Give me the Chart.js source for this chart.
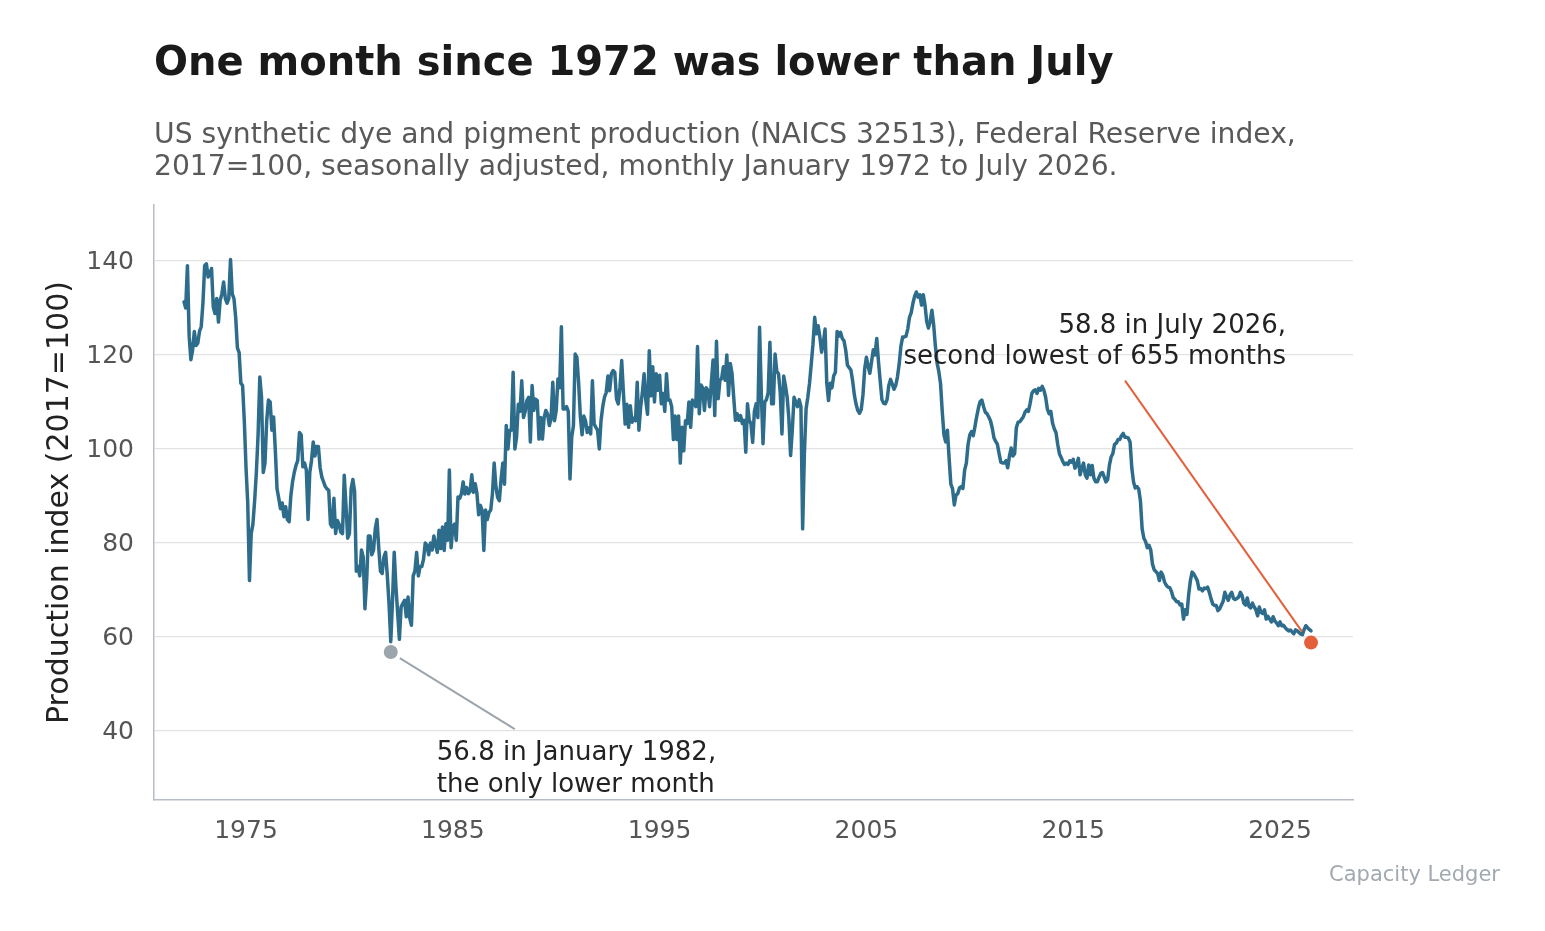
<!DOCTYPE html>
<html>
<head>
<meta charset="utf-8">
<script src="https://cdn.jsdelivr.net/npm/chart.js@4.4.1/dist/chart.umd.min.js"></script>
<style>
  html, body { margin: 0; padding: 0; background: #fff; }
  body { width: 1545px; height: 931px; position: relative; overflow: hidden; font-family: 'DejaVu Sans', sans-serif; }
  #chart { position: absolute; left: 0; top: 0; }
  .title { position: absolute; left: 154px; top: 41px; font-size: 40px; line-height: 40px; font-weight: bold; color: #1a1a1a; white-space: nowrap; }
  .subtitle { position: absolute; left: 154px; top: 118px; font-size: 28.2px; line-height: 32px; color: #595959; white-space: nowrap; }
  .source { position: absolute; right: 45px; top: 864px; font-size: 21px; line-height: 21px; color: #a3a9b0; white-space: nowrap; }
</style>
</head>
<body>
<canvas id="chart" width="1545" height="931"></canvas>
<div class="title">One month since 1972 was lower than July</div>
<div class="subtitle">US synthetic dye and pigment production (NAICS 32513), Federal Reserve index,<br>2017=100, seasonally adjusted, monthly January 1972 to July 2026.</div>
<div class="source">Capacity Ledger</div>
<script>
// monthly index values, January 1972 onwards (12 per row = one year)
const startYear = 1972;

const prod1970s = [
  131.3, 130, 139, 124, 119, 121, 125, 122, 122.5, 125, 126, 131,
  139, 139.4, 136.6, 137.3, 138.4, 130.2, 128.8, 132, 127, 131.6, 133, 135.5,
  132, 131, 132, 140.3, 133, 132, 128, 121.5, 120.5, 114, 113.5, 106,
  96, 88.5, 72, 82, 84, 89, 95, 103, 115.3, 111, 95, 97,
  106, 110.4, 110, 104, 106.8, 99.7, 91.5, 89.5, 87.3, 88.5, 85.6, 87.7,
  85, 84.5, 90, 93, 95, 96.5, 97.5, 103.5, 103, 96.2, 97, 95.5,
  85, 95, 97.5, 101.5, 98.5, 100.5, 100.5, 96, 94, 93, 92, 91.5,
  91.2, 84, 83.4, 89.5, 82, 84.8, 84, 82.3, 82, 94.4, 88, 81
];

const prod1980s = [
  82, 91.5, 93.5, 91, 74, 75, 73, 78.5, 77, 66, 72, 81.5,
  81.5, 77.5, 78.5, 83, 85, 79, 74, 73.5, 77, 78, 73, 67,
  59, 67.8, 78, 70.6, 65, 59.5, 66.4, 67.1, 67.8, 64.3, 68.5, 64,
  62.5, 73, 74, 78, 73, 75, 75, 76.5, 80, 79.5, 77.5, 80,
  78.5, 81.5, 79.5, 78, 82.7, 78.8, 83.4, 78.4, 84.1, 80.6, 95.5, 79,
  83.5, 84, 80.6, 89.8, 89.5, 90.5, 93, 90.4, 91.8, 90.5, 91, 94.5,
  90.8, 92.6, 90.5, 86, 88, 86.9, 78.4, 87, 85, 86.5, 87, 90.5,
  97, 92, 89.7, 89, 93.5, 97, 92.5, 105, 100, 104, 104, 116.3,
  100, 102.5, 109.5, 108, 114.5, 106.7, 108, 110.3, 111, 101.5, 113.5, 108.2,
  110.6, 110.3, 102.1, 106.7, 102.1, 106.7, 108.2, 107.4, 105, 106.4, 114.2, 106
];

const prod1990s = [
  108.2, 114.9, 113, 126, 108.5, 108.5, 109, 108, 93.6, 102.5, 105, 120.2,
  119.5, 114, 107, 103, 107, 106, 103.5, 104.5, 103.2, 114.5, 105.3, 104.6,
  104, 100, 106, 109, 111, 112, 115.5, 112.4, 116, 116.7, 116.3, 110.6,
  109.6, 113.1, 118.8, 112, 105.3, 109.5, 104.6, 109.2, 105.7, 106.5, 106, 114.2,
  104, 108.9, 112, 116, 110.3, 107.4, 120.9, 111.3, 117.5, 110, 116, 112.5,
  115.7, 109.6, 111.8, 108, 116, 110.4, 110.4, 109, 102, 107, 102, 107,
  97, 104.6, 99.6, 106, 105.4, 110, 104.6, 110.4, 110, 109, 121.8, 107.5,
  113.6, 113, 108.2, 113, 112.5, 109, 114, 118.9, 107.1, 122.9, 110.7, 114.6,
  115, 117.5, 114.6, 120, 111.4, 118.2, 116.1, 111, 106.1, 107.5, 106.1, 107.1,
  105.4, 106.1, 99.3, 109.6, 106.1, 105.4, 101.4, 108, 109.6, 106.7, 125.9, 112
];

const prod2000s = [
  101.1, 110, 110.5, 112, 122.7, 109.6, 109.6, 120.2, 116.5, 116, 112, 103.2,
  115.5, 113.5, 111, 106.5, 98.6, 104, 111, 110, 109, 110.5, 109, 83,
  99, 108.5, 111, 114, 118.1, 122.3, 128, 124.5, 126.2, 123.8, 120.6, 122.5,
  125.5, 114, 110.3, 114, 113, 115.5, 116.3, 125, 124, 124.8, 123.5, 123,
  121, 117.8, 117.3, 116.8, 114.5, 111.5, 109.5, 108.2, 107.6, 108.4, 111.5, 117,
  119.5, 117.6, 116.1, 118.6, 121.1, 120, 123.5, 118.6, 114.5, 110.5, 109.7, 109.6,
  110.5, 113.5, 114.8, 113.8, 112.7, 113.5, 115.3, 118, 121.8, 123.8, 123.8, 124,
  125.5, 128, 129, 131, 132.5, 133.4, 132.3, 132.8, 130.6, 132.8, 130.6, 127.1,
  125.7, 127.1, 129.5, 126.5, 122, 118.3, 116.5, 114, 108, 103, 101.5, 104,
  98, 92.5, 91.5, 88.1, 90.2, 90.5, 91.7, 92, 91.6, 95.5, 97, 101
];

const prod2010s = [
  103, 103.7, 102.8, 104.8, 106.9, 108.7, 110.1, 110.4, 109, 107.8, 107.5, 106.8,
  106, 104.5, 102.4, 101.6, 101, 99, 97.2, 97, 97, 97.5, 96, 98.5,
  100.2, 98.5, 99, 104.5, 105.7, 105.8, 106.3, 106.8, 107.8, 108.3, 108, 109.7,
  111.8, 112.4, 112.6, 111.8, 112.9, 112.5, 113.3, 112.5, 111, 108.5, 107.5, 108,
  105.5, 104.3, 103.5, 101, 99, 98.2, 97.3, 96.7, 97, 96.7, 97.5, 97.2,
  97.8, 95.9, 96.6, 98, 94.5, 95.9, 97, 94.5, 93.8, 96.6, 94.5, 96.5,
  93.8, 93, 93, 94, 94.8, 95, 94, 93, 93.5, 96.5, 98.3, 99,
  101, 101.2, 102, 102, 102.8, 103.3, 102.5, 102.5, 102.3, 101.5, 96, 93,
  91.7, 92, 91.5, 89, 83, 81, 80.3, 79, 79.5, 78.5, 75.5, 74.3,
  73.9, 73.5, 72, 73.8, 73.1, 71.7, 71, 70.6, 70.5, 69.7, 68.4, 68
];

const prod2020s = [
  67.5, 67.5, 66.8, 67, 63.8, 65.8, 64.8, 69, 72, 73.8, 73.4, 72.7,
  72, 70.2, 70.3, 69.8, 70.4, 70.3, 70.6, 69.5, 68.1, 67, 66.7, 66.7,
  65.6, 66, 66.8, 67.6, 69.5, 68.5, 67.8, 69, 69.5, 68.2, 68, 68.2,
  68.5, 69.5, 68.8, 67.2, 66.8, 68.3, 66.5, 66.2, 67.2, 66.4, 65.8, 64.5,
  66.4, 65.2, 65, 65.8, 63.8, 64.4, 63.8, 63.2, 64.3, 63.4, 63, 62.4,
  63.2, 62.4, 62.5, 62, 61.6, 61.3, 61.5, 61.1, 60.7, 61.5, 61.3, 61,
  60.6, 60.5, 61.6, 62.4, 62, 61.6, 61.3
];

// highlighted months: January 1982 and July 2026
const markYears = [1982 + 0 / 12, 2026 + 6 / 12];
const markValues = [56.8, 58.8];
const markNotes = [
  ['56.8 in January 1982,', 'the only lower month'],
  ['58.8 in July 2026,', 'second lowest of 655 months']
];

const xTicks = [1975, 1985, 1995, 2005, 2015, 2025];
const yTicks = [40, 60, 80, 100, 120, 140];

const monthly = [].concat(prod1970s, prod1980s, prod1990s, prod2000s, prod2010s, prod2020s);
const linePoints = monthly.map((v, i) => ({ x: startYear + i / 12, y: v }));
const markPoints = markYears.map((yr, i) => ({ x: yr, y: markValues[i] }));

const grey = '#9ca4ac';
const orange = '#e4603b';
const FONT = 'DejaVu Sans';

Chart.defaults.font.family = FONT;

const notes = {
  id: 'notes',
  afterDatasetsDraw(chart) {
    const { ctx, scales: { x, y } } = chart;
    ctx.save();
    ctx.lineWidth = 2;

    // low point, January 1982
    const lx = x.getPixelForValue(markYears[0]);
    const ly = y.getPixelForValue(markValues[0]);
    ctx.strokeStyle = grey;
    ctx.beginPath();
    ctx.moveTo(lx + 9, ly + 6);
    ctx.lineTo(lx + 124, ly + 77);
    ctx.stroke();

    // latest point, July 2026
    const ox = x.getPixelForValue(markYears[1]);
    const oy = y.getPixelForValue(markValues[1]);
    ctx.strokeStyle = orange;
    ctx.beginPath();
    ctx.moveTo(ox - 186, oy - 262);
    ctx.lineTo(ox - 9, oy - 11);
    ctx.stroke();

    ctx.fillStyle = '#222';
    ctx.font = '26px "' + FONT + '"';
    ctx.textBaseline = 'alphabetic';
    ctx.textAlign = 'left';
    ctx.fillText(markNotes[0][0], lx + 46, ly + 108);
    ctx.fillText(markNotes[0][1], lx + 46, ly + 140);
    ctx.textAlign = 'right';
    ctx.fillText(markNotes[1][0], ox - 25, oy - 310);
    ctx.fillText(markNotes[1][1], ox - 25, oy - 279);
    ctx.restore();
  }
};

new Chart(document.getElementById('chart'), {
  data: {
    datasets: [
      {
        type: 'scatter',
        data: markPoints,
        pointRadius: 7,
        pointHoverRadius: 7,
        pointBorderWidth: 0,
        pointBackgroundColor: [grey, orange],
        clip: false,
        order: 0
      },
      {
        type: 'line',
        data: linePoints,
        borderColor: '#2e6c8c',
        borderWidth: 3.5,
        borderJoinStyle: 'round',
        borderCapStyle: 'round',
        pointRadius: 0,
        tension: 0,
        fill: false,
        order: 1
      }
    ]
  },
  options: {
    responsive: false,
    animation: false,
    events: [],
    layout: { padding: { top: 205, right: 192, left: 0, bottom: 0 } },
    plugins: { legend: { display: false }, tooltip: { enabled: false } },
    scales: {
      x: {
        type: 'linear',
        min: 1970.55,
        max: 2028.53,
        afterBuildTicks: s => { s.ticks = xTicks.map(v => ({ value: v })); },
        afterFit: s => { s.height = 131; },
        grid: { display: false, drawTicks: false },
        border: { display: true, color: '#b6bdc7', width: 1.5 },
        ticks: { color: '#555', font: { size: 25 }, padding: 16, maxRotation: 0, callback: v => String(v) }
      },
      y: {
        type: 'linear',
        min: 25.32,
        max: 151.9,
        afterBuildTicks: s => { s.ticks = yTicks.map(v => ({ value: v })); },
        afterFit: s => { s.width = 154; },
        grid: { color: '#e3e3e3', lineWidth: 1.3, drawTicks: false },
        border: { display: true, color: '#b6bdc7', width: 1.5 },
        ticks: { color: '#555', font: { size: 25 }, padding: 20, labelOffset: 2, callback: v => String(v) },
        title: {
          display: true,
          text: 'Production index (2017=100)',
          color: '#222',
          font: { size: 30 },
          padding: { top: 42, bottom: 0 }
        }
      }
    }
  },
  plugins: [notes]
});
</script>
</body>
</html>
